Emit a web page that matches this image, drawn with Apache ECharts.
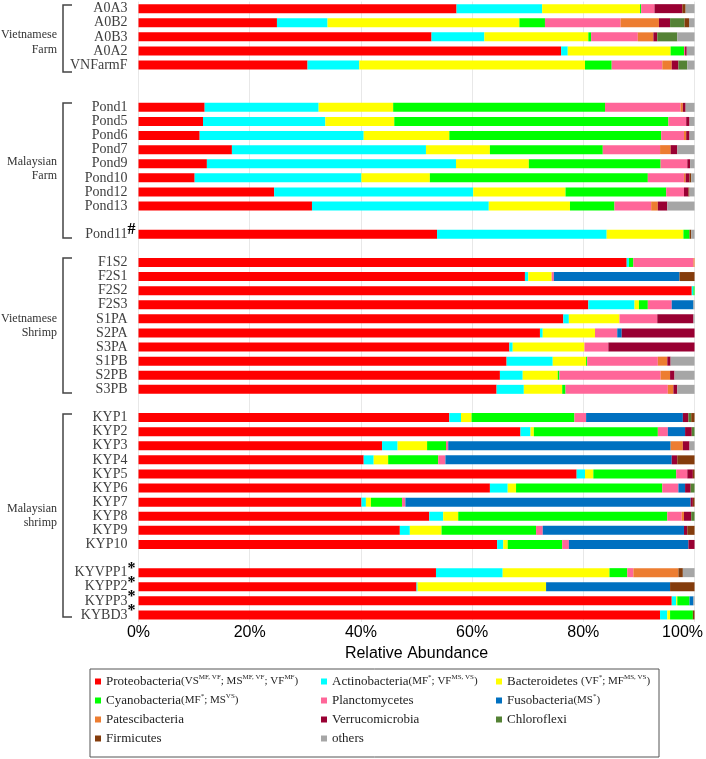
<!DOCTYPE html>
<html>
<head>
<meta charset="utf-8">
<script src="https://cdn.jsdelivr.net/npm/echarts@6/dist/echarts.min.js"></script>
<style>
  html, body { margin: 0; padding: 0; background: #fff; }
  #chart { width: 706px; height: 759px; }
</style>
</head>
<body>
<div id="chart"></div>
<script>
// samples, top to bottom
var samples = ['A0A3','A0B2','A0B3','A0A2','VNFarmF',
  'Pond1','Pond5','Pond6','Pond7','Pond9','Pond10','Pond12','Pond13','Pond11#',
  'F1S2','F2S1','F2S2','F2S3','S1PA','S2PA','S3PA','S1PB','S2PB','S3PB',
  'KYP1','KYP2','KYP3','KYP4','KYP5','KYP6','KYP7','KYP8','KYP9','KYP10',
  'KYVPP1*','KYPP2*','KYPP3*','KYBD3*'];
// empty rows inserted before these samples
var gapsBefore = { 'Pond1': 2, 'Pond11#': 1, 'F1S2': 1, 'KYP1': 1, 'KYVPP1*': 1 };

// relative abundance (%), one value per sample
var proteobacteria = [57.2,24.9,52.7,76.0,30.4, 11.9,11.6,11.0,16.8,12.3,10.1,24.4,31.2, 53.7,
  87.8,69.5,99.5,80.9,76.4,72.2,66.7,66.2,65.0,64.4, 55.9,68.7,43.8,40.5,78.8,63.2,40.1,52.3,47.0,64.5, 53.5,50.0,95.9,93.8];
var actinobacteria = [15.4,9.1,9.5,1.2,9.3, 20.5,22.0,29.5,34.9,44.8,30.0,35.8,31.8, 30.5,
  0.4,0.6,0.3,8.3,1.0,0.5,0.6,8.3,4.1,4.9, 2.1,1.8,2.8,1.8,1.5,3.2,0.8,2.5,1.8,1.1, 12.0,0.2,0.8,1.3];
var bacteroidetes = [17.6,34.5,18.7,18.5,40.6, 13.4,12.4,15.4,11.5,13.1,12.3,16.6,14.6, 13.8,
  0,4.2,0,0.8,9.1,9.4,12.9,6.0,6.3,6.9, 1.9,0.6,5.3,2.6,1.5,1.5,0.9,2.7,5.7,0.8, 19.2,23.1,0.2,0.5];
var cyanobacteria = [0.2,4.6,0.5,2.4,4.8, 38.1,49.3,38.1,20.3,23.7,39.2,18.1,8.0, 1.1,
  0.8,0,0.2,1.6,0,0,0,0.2,0.3,0.6, 18.5,22.3,3.4,9.0,14.9,26.3,5.6,37.6,17.0,9.8, 3.2,0,2.2,4.1];
var planctomycetes = [2.4,13.6,8.4,0.2,9.1, 13.6,3.2,4.1,10.3,4.8,6.5,3.2,6.6, 0,
  10.8,0.4,0,4.3,6.8,4.0,4.3,12.7,18.2,18.4, 2.1,1.8,0.4,1.3,2.0,2.9,0.6,2.6,1.2,1.2, 1.1,0,0,0];
var fusobacteria = [0,0,0,0,0, 0,0,0,0,0,0,0,0, 0,
  0,22.6,0,3.9,0,0.8,0,0,0,0, 17.4,3.1,40.0,40.7,0,1.2,51.3,0,25.4,21.5, 0,22.3,0.7,0];
var patescibacteria = [0,6.9,2.8,0,1.7, 0.4,0,0.4,1.9,0,0.3,0,1.2, 0,
  0.2,0,0,0,0,0,0,1.7,1.7,1.0, 0,0,2.2,0,0,0,0,0.4,0,0, 8.1,0,0,0];
var verrucomicrobia = [5.0,2.0,0.7,0.3,1.2, 0.5,0.6,0.6,1.2,0.5,0.7,0.8,1.7, 0,
  0,0,0,0,6.5,13.1,15.5,0.6,0.8,0.7, 1.0,1.2,1.2,1.0,1.0,1.0,0.4,1.3,0.6,1.1, 0,0,0,0];
var chloroflexi = [0,2.6,3.6,0,1.6, 0,0,0,0,0,0,0,0, 0,
  0,0,0,0,0,0,0,0,0,0, 0.5,0.5,0,0,0,0.7,0,0.6,0,0, 0,0,0,0];
var firmicutes = [0.6,0.8,0,0,0, 0,0,0,0,0,0.3,0.2,0, 0.3,
  0,2.7,0,0,0,0,0,0,0,0, 0.6,0,0,3.1,0.3,0,0.3,0,1.3,0, 0.8,4.4,0,0.3];
var others = [1.6,1.0,3.1,1.4,1.3, 1.6,0.9,0.9,3.1,0.8,0.6,0.9,4.9, 0.6,
  0,0,0,0.2,0.2,0,0,4.3,3.6,3.1, 0,0,0.9,0,0,0,0,0,0,0, 2.1,0,0.2,0];

var xTicks = [0, 20, 40, 60, 80, 100];

var phyla = [
  { name: 'Proteobacteria', values: proteobacteria, color: '#FF0000' },
  { name: 'Actinobacteria', values: actinobacteria, color: '#00FFFF' },
  { name: 'Bacteroidetes', values: bacteroidetes, color: '#FFFF00' },
  { name: 'Cyanobacteria', values: cyanobacteria, color: '#00FF00' },
  { name: 'Planctomycetes', values: planctomycetes, color: '#FF6699' },
  { name: 'Fusobacteria', values: fusobacteria, color: '#0070C0' },
  { name: 'Patescibacteria', values: patescibacteria, color: '#ED7D31' },
  { name: 'Verrucomicrobia', values: verrucomicrobia, color: '#990033' },
  { name: 'Chloroflexi', values: chloroflexi, color: '#548235' },
  { name: 'Firmicutes', values: firmicutes, color: '#843C0C' },
  { name: 'others', values: others, color: '#A6A6A6' }
];

// legend texts with the superscripts
var legendText = {
  'Proteobacteria': 'Proteobacteria{p|(VS}{s|MF, VF}{p|; MS}{s|MF, VF}{p|; VF}{s|MF}{p|)}',
  'Actinobacteria': 'Actinobacteria{p|(MF}{s|*}{p|; VF}{s|MS, VS}{p|)}',
  'Bacteroidetes': 'Bacteroidetes {p|(VF}{s|*}{p|; MF}{s|MS, VS}{p|)}',
  'Cyanobacteria': 'Cyanobacteria{p|(MF}{s|*}{p|; MS}{s|VS}{p|)}',
  'Fusobacteria': 'Fusobacteria{p|(MS}{s|*}{p|)}'
};

// build category rows with the blank spacer rows
var categories = [];
var rowIndex = [];
var g = 0;
samples.forEach(function (s) {
  var n = gapsBefore[s] || 0;
  for (var k = 0; k < n; k++) { categories.push('_' + (g++)); }
  rowIndex.push(categories.length);
  categories.push(s);
});

var series = phyla.map(function (ph) {
  var data = categories.map(function () { return '-'; });
  ph.values.forEach(function (v, i) { data[rowIndex[i]] = v; });
  return {
    name: ph.name,
    type: 'bar',
    stack: 'total',
    barWidth: 9,
    itemStyle: { color: ph.color },
    data: data
  };
});

var serif = 'Liberation Serif';
var legendBase = {
  orient: 'vertical',
  top: 674,
  itemWidth: 6,
  itemHeight: 6,
  itemGap: 4,
  padding: 0,
  icon: 'rect',
  formatter: function (name) { return legendText[name] || name; },
  textStyle: {
    fontFamily: serif, fontSize: 13, color: '#222', lineHeight: 15,
    rich: {
      p: { fontFamily: serif, fontSize: 11, color: '#222', lineHeight: 15 },
      s: { fontFamily: serif, fontSize: 7, color: '#222', lineHeight: 9, verticalAlign: 'top' }
    }
  }
};
function legendCol(left, names) {
  var l = Object.assign({}, legendBase);
  l.left = left;
  l.data = names;
  return l;
}

function bracket(y0, y1) {
  return {
    type: 'polyline',
    shape: { points: [[72, y0], [63, y0], [63, y1], [72, y1]] },
    style: { stroke: '#444', lineWidth: 1.5, fill: null }
  };
}
function groupLabel(text, y) {
  return {
    type: 'text',
    x: 57, y: y,
    style: {
      text: text, fill: '#333', font: '12px "Liberation Serif"',
      align: 'right', verticalAlign: 'middle', textAlign: 'right', textVerticalAlign: 'middle'
    }
  };
}

var chart = echarts.init(document.getElementById('chart'));
var option = {
  animation: false,
  grid: { left: 138.5, right: 11, top: 1.6, bottom: 137, containLabel: false },
  legend: [
    legendCol(95, ['Proteobacteria', 'Cyanobacteria', 'Patescibacteria', 'Firmicutes']),
    legendCol(321, ['Actinobacteria', 'Planctomycetes', 'Verrucomicrobia', 'others']),
    legendCol(496, ['Bacteroidetes', 'Fusobacteria', 'Chloroflexi'])
  ],
  xAxis: {
    type: 'value',
    min: xTicks[0],
    max: xTicks[xTicks.length - 1],
    interval: 20,
    name: 'Relative Abundance',
    nameLocation: 'middle',
    nameGap: 24,
    nameTextStyle: { fontFamily: 'Liberation Sans', fontSize: 16, color: '#000' },
    axisLine: { show: false },
    axisTick: { show: false },
    splitLine: { show: true, lineStyle: { color: '#E8E8E8', width: 1 } },
    axisLabel: {
      margin: 3,
      fontFamily: 'Liberation Sans', fontSize: 16, color: '#000',
      formatter: function (v) { return v === 100 ? '{m|100%}' : v + '%'; },
      rich: { m: { fontFamily: 'Liberation Sans', fontSize: 16, color: '#000', padding: [0, 24, 0, 0] } }
    }
  },
  yAxis: {
    type: 'category',
    inverse: true,
    data: categories,
    axisLine: { show: false },
    axisTick: { show: false },
    axisLabel: {
      margin: 3,
      interval: 0,
      formatter: function (v) {
        if (v.charAt(0) === '_') return '';
        var m = v.match(/^(.*?)([#*])$/);
        if (m) return '{a|' + m[1] + '}{s|' + m[2] + '}';
        return '{n|' + v + '}';
      },
      rich: {
        n: { fontFamily: serif, fontSize: 14, color: '#404040', padding: [0, 8, 0, 0] },
        a: { fontFamily: serif, fontSize: 14, color: '#404040' },
        s: { fontFamily: serif, fontSize: 16, fontWeight: 'bold', color: '#000', padding: [0, 0, 8, 0] }
      }
    }
  },
  graphic: [
    { type: 'rect', shape: { x: 90, y: 669, width: 569, height: 88 },
      style: { fill: null, stroke: '#555', lineWidth: 1 } },
    bracket(5, 72), bracket(103, 238), bracket(258, 393), bracket(414, 617),
    groupLabel('Vietnamese', 35), groupLabel('Farm', 50),
    groupLabel('Malaysian', 162), groupLabel('Farm', 176),
    groupLabel('Vietnamese', 319), groupLabel('Shrimp', 333),
    groupLabel('Malaysian', 509), groupLabel('shrimp', 523)
  ],
  series: series
};
chart.setOption(option);
</script>
</body>
</html>
